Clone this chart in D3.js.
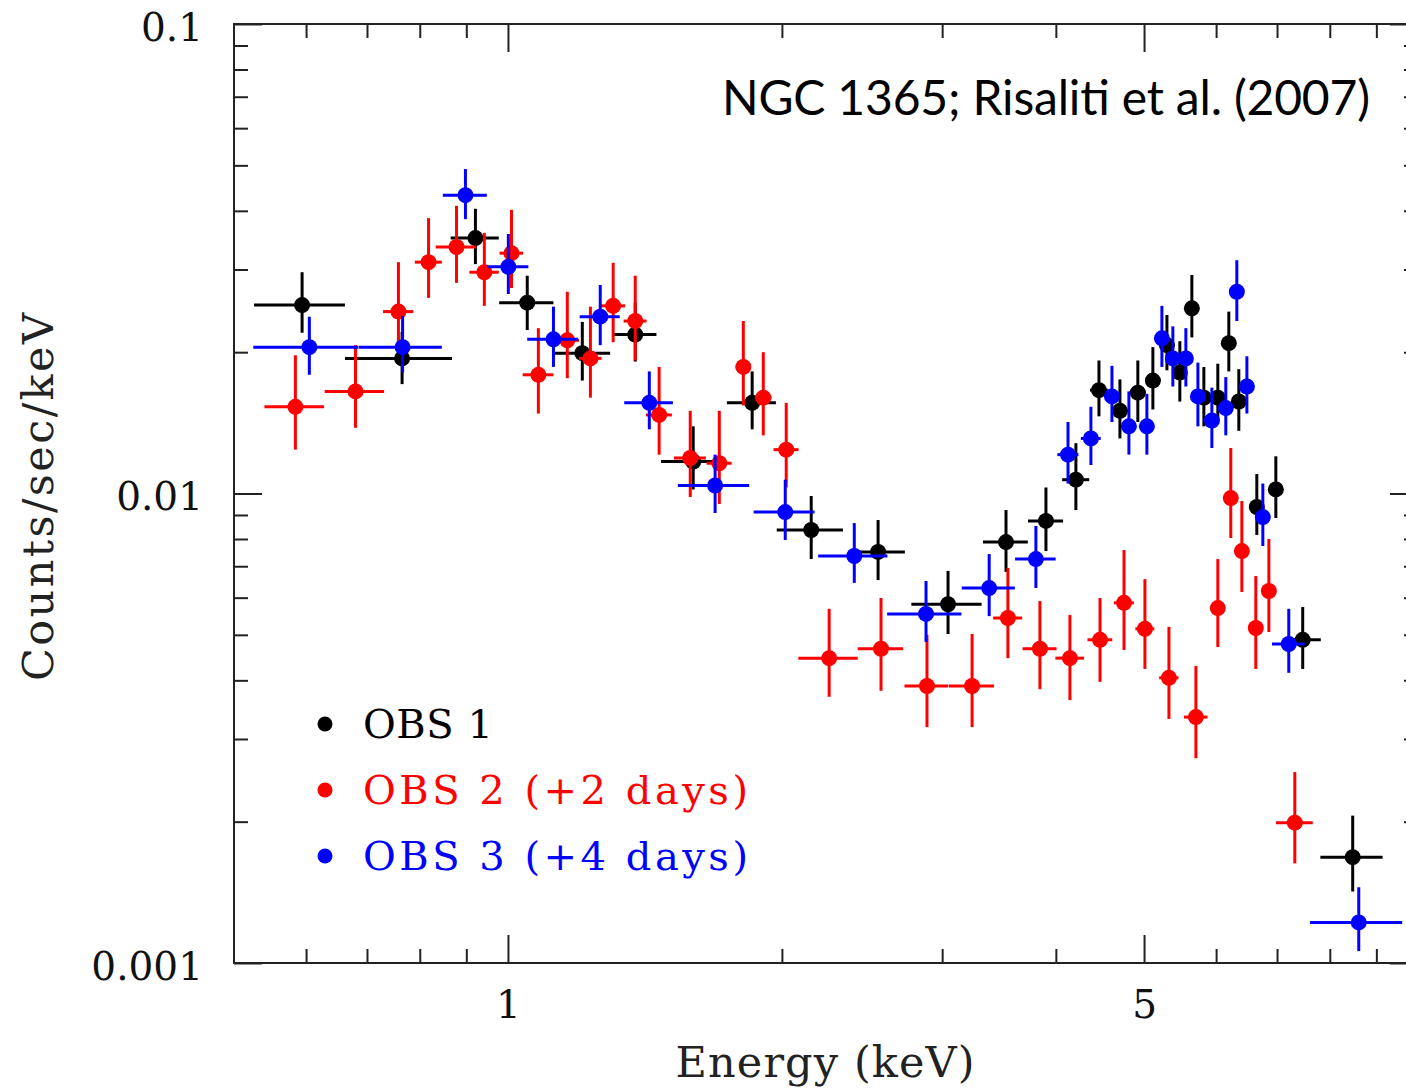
<!DOCTYPE html>
<html><head><meta charset="utf-8">
<script src="https://cdn.jsdelivr.net/npm/d3@7"></script>
<style>body{margin:0;background:#fff;overflow:hidden;} svg{display:block;}</style>
</head><body>
<svg id="chart" width="1406" height="1088"></svg>
<script>
// ---------------- DATA ----------------
// OBS 1
const obs1Energy = [0.594,0.765,0.921,1.050,1.207,1.380,1.598,1.855,2.154,2.551,3.045,3.526,3.901,4.208,4.461,4.704,4.922,5.113,5.298,5.474,5.643,5.817,6.026,6.196,6.355,6.651,6.979,7.470,8.477];
const obs1EnergyErr = [0.068,0.103,0.056,0.072,0.088,0.076,0.125,0.115,0.180,0.179,0.270,0.200,0.173,0.144,0.10,0.10,0.10,0.10,0.10,0.10,0.10,0.10,0.10,0.10,0.10,0.12,0.12,0.35,0.666];
const obs1Rate = [0.0252,0.0194,0.0350,0.0255,0.0199,0.0218,0.0117,0.0156,0.00836,0.00751,0.00581,0.00788,0.00874,0.0107,0.0166,0.0150,0.0164,0.0174,0.0207,0.0181,0.0248,0.0160,0.0160,0.0209,0.0157,0.00936,0.0102,0.00488,0.00168];
const obs1RateLo = [0.0220,0.0171,0.0308,0.0223,0.0174,0.0191,0.0102,0.0137,0.00725,0.00654,0.00502,0.00681,0.00754,0.00922,0.0146,0.0131,0.0142,0.0151,0.0183,0.0157,0.0215,0.0139,0.0141,0.0182,0.0136,0.00816,0.00887,0.00423,0.00142];
const obs1RateHi = [0.0296,0.0221,0.0404,0.0291,0.0232,0.0255,0.0139,0.0182,0.00988,0.00878,0.00684,0.00922,0.0103,0.0128,0.0192,0.0175,0.0192,0.0205,0.0240,0.0211,0.0292,0.0186,0.0189,0.0244,0.0184,0.0110,0.0120,0.00573,0.00206];

// OBS 2 (+2 days)
const obs2Energy = [0.584,0.680,0.758,0.818,0.878,0.942,1.009,1.080,1.162,1.232,1.305,1.380,1.466,1.586,1.707,1.814,1.908,2.022,2.254,2.570,2.887,3.236,3.543,3.842,4.145,4.473,4.753,5.011,5.325,5.701,6.026,6.227,6.404,6.634,6.857,7.322];
const obs2EnergyErr = [0.044,0.051,0.029,0.028,0.045,0.035,0.030,0.042,0.035,0.035,0.040,0.040,0.048,0.064,0.054,0.035,0.040,0.064,0.169,0.147,0.160,0.185,0.130,0.165,0.150,0.140,0.120,0.120,0.130,0.170,0.100,0.100,0.100,0.100,0.100,0.340];
const obs2Rate = [0.0153,0.0165,0.0244,0.0311,0.0335,0.0296,0.0325,0.0179,0.0212,0.0194,0.0251,0.0233,0.0147,0.0119,0.0116,0.0186,0.0160,0.0124,0.00446,0.00467,0.00389,0.00389,0.00543,0.00467,0.00446,0.00488,0.00585,0.00515,0.00405,0.00334,0.00570,0.00978,0.00754,0.00517,0.00620,0.00199];
const obs2RateLo = [0.0124,0.0138,0.0202,0.0261,0.0281,0.0251,0.0274,0.0148,0.0176,0.0160,0.0210,0.0192,0.0121,0.00983,0.00950,0.0154,0.0133,0.0103,0.00369,0.00380,0.00318,0.00318,0.00446,0.00383,0.00363,0.00397,0.00464,0.00423,0.00331,0.00273,0.00471,0.00804,0.00617,0.00423,0.00507,0.00163];
const obs2RateHi = [0.0197,0.0207,0.0311,0.0386,0.0410,0.0359,0.0402,0.0225,0.0269,0.0250,0.0310,0.0291,0.0186,0.0150,0.0150,0.0233,0.0200,0.0156,0.00568,0.00599,0.00500,0.00502,0.00694,0.00590,0.00551,0.00599,0.00758,0.00657,0.00520,0.00429,0.00725,0.0125,0.00964,0.00667,0.00800,0.00255];

// OBS 3 (+4 days)
const obs3Energy = [0.605,0.766,0.898,1.001,1.122,1.263,1.430,1.689,2.017,2.402,2.880,3.379,3.803,4.125,4.371,4.610,4.812,5.036,5.231,5.378,5.558,5.730,5.936,6.149,6.323,6.486,6.753,7.211,8.608];
const obs3EnergyErr = [0.080,0.080,0.050,0.052,0.072,0.064,0.088,0.152,0.155,0.210,0.270,0.227,0.195,0.110,0.110,0.090,0.090,0.090,0.090,0.090,0.090,0.090,0.090,0.090,0.090,0.090,0.090,0.300,1.000];
const obs3Rate = [0.0205,0.0205,0.0432,0.0304,0.0213,0.0238,0.0156,0.0104,0.00913,0.00736,0.00554,0.00629,0.00725,0.0121,0.0131,0.0161,0.0139,0.0139,0.0214,0.0194,0.0194,0.0161,0.0143,0.0152,0.0269,0.0169,0.00891,0.00478,0.00122];
const obs3RateLo = [0.0179,0.0181,0.0384,0.0266,0.0186,0.0207,0.0137,0.00909,0.00796,0.00645,0.00483,0.00548,0.00629,0.0105,0.0115,0.0142,0.0121,0.0121,0.0186,0.0169,0.0169,0.0139,0.0125,0.0133,0.0233,0.0148,0.00773,0.00415,0.00106];
const obs3RateHi = [0.0238,0.0239,0.0491,0.0357,0.0250,0.0278,0.0182,0.0121,0.0107,0.00865,0.00651,0.00743,0.00853,0.0142,0.0153,0.0187,0.0165,0.0163,0.0251,0.0227,0.0225,0.0190,0.0168,0.0177,0.0314,0.0196,0.0105,0.00568,0.00145];

const seriesNames = ["OBS 1", "OBS 2 (+2 days)", "OBS 3 (+4 days)"];
const seriesColors = ["#000000", "#ff0000", "#0000ff"];

const xMajorTicks = [1, 5, 10];
const xMinorTicks = [0.6, 0.7, 0.8, 0.9, 2, 3, 4, 6, 7, 8, 9];
const yMajorTicks = [0.1, 0.01, 0.001];
const yMinorTicks = [0.002,0.003,0.004,0.005,0.006,0.007,0.008,0.009,0.02,0.03,0.04,0.05,0.06,0.07,0.08,0.09];
const xTickLabels = {1: "1", 5: "5", 10: ""};
const yTickLabels = {0.1: "0.1", 0.01: "0.01", 0.001: "0.001"};

const titleText = "NGC 1365; Risaliti et al. (2007)";
const xTitle = "Energy (keV)";
const yTitle = "Counts/sec/keV";

// ---------------- DRAW ----------------
const svg = d3.select("#chart");
const L = 234, T = 24, R = 1418, B = 963;
const x = d3.scaleLog().domain([0.5, 10]).range([L, R]);
const y = d3.scaleLog().domain([0.001, 0.1]).range([B, T]);
const serif = "'DejaVu Serif', 'Liberation Serif', serif";
const axisColor = "#222";

function styleAxis(g) {
  g.select(".domain").remove();
  g.selectAll(".tick line").attr("stroke", axisColor).attr("stroke-width", 2);
  g.selectAll(".tick text").attr("font-family", serif).attr("font-size", 39).attr("fill", "#111");
}

// bottom
svg.append("g").attr("transform", `translate(0,${B})`)
  .call(d3.axisBottom(x).tickValues(xMinorTicks).tickSize(-14).tickFormat(""))
  .call(styleAxis);
svg.append("g").attr("transform", `translate(0,${B})`)
  .call(d3.axisBottom(x).tickValues(xMajorTicks).tickSize(-28).tickPadding(27).tickFormat(d => xTickLabels[d]))
  .call(styleAxis);
// top
svg.append("g").attr("transform", `translate(0,${T})`)
  .call(d3.axisTop(x).tickValues(xMinorTicks).tickSize(-14).tickFormat(""))
  .call(styleAxis);
svg.append("g").attr("transform", `translate(0,${T})`)
  .call(d3.axisTop(x).tickValues(xMajorTicks).tickSize(-28).tickFormat(""))
  .call(styleAxis);
// left
svg.append("g").attr("transform", `translate(${L},0)`)
  .call(d3.axisLeft(y).tickValues(yMinorTicks).tickSize(-14).tickFormat(""))
  .call(styleAxis);
const yMaj = svg.append("g").attr("transform", `translate(${L},0)`)
  .call(d3.axisLeft(y).tickValues(yMajorTicks).tickSize(-28).tickPadding(31).tickFormat(d => yTickLabels[d]))
  .call(styleAxis);
yMaj.selectAll(".tick text").attr("dy", "0.42em");
// right
svg.append("g").attr("transform", `translate(${R},0)`)
  .call(d3.axisRight(y).tickValues(yMinorTicks).tickSize(-14).tickFormat(""))
  .call(styleAxis);
svg.append("g").attr("transform", `translate(${R},0)`)
  .call(d3.axisRight(y).tickValues(yMajorTicks).tickSize(-28).tickFormat(""))
  .call(styleAxis);

// frame
svg.append("rect").attr("x", L).attr("y", T).attr("width", R - L).attr("height", B - T)
  .attr("fill", "none").attr("stroke", axisColor).attr("stroke-width", 2);

// data
const series = [
  {E: obs1Energy, dE: obs1EnergyErr, r: obs1Rate, lo: obs1RateLo, hi: obs1RateHi},
  {E: obs2Energy, dE: obs2EnergyErr, r: obs2Rate, lo: obs2RateLo, hi: obs2RateHi},
  {E: obs3Energy, dE: obs3EnergyErr, r: obs3Rate, lo: obs3RateLo, hi: obs3RateHi}
];
series.forEach((s, si) => {
  const pts = s.E.map((e, i) => ({e, de: s.dE[i], r: s.r[i], lo: s.lo[i], hi: s.hi[i]}));
  const g = svg.append("g").attr("stroke", seriesColors[si]).attr("fill", seriesColors[si]);
  g.selectAll("line.h").data(pts).enter().append("line").attr("class", "h")
    .attr("x1", d => x(d.e - d.de)).attr("x2", d => x(d.e + d.de))
    .attr("y1", d => y(d.r)).attr("y2", d => y(d.r)).attr("stroke-width", 3);
  g.selectAll("line.v").data(pts).enter().append("line").attr("class", "v")
    .attr("x1", d => x(d.e)).attr("x2", d => x(d.e))
    .attr("y1", d => y(d.lo)).attr("y2", d => y(d.hi)).attr("stroke-width", 3);
  g.selectAll("circle").data(pts).enter().append("circle")
    .attr("cx", d => x(d.e)).attr("cy", d => y(d.r)).attr("r", 8).attr("stroke", "none");
});

// legend
const legendWidths = [130, 385, 385];
const lg = svg.append("g");
seriesNames.forEach((name, i) => {
  const cy = 724 + i * 66;
  lg.append("circle").attr("cx", 325).attr("cy", cy).attr("r", 7.5).attr("fill", seriesColors[i]);
  lg.append("text").attr("x", 363).attr("y", cy + 14)
    .attr("font-family", serif).attr("font-size", 40).attr("fill", seriesColors[i])
    .attr("textLength", legendWidths[i]).attr("lengthAdjust", "spacing")
    .text(name);
});

// titles
svg.append("text").attr("x", 1370).attr("y", 115).attr("text-anchor", "end")
  .attr("font-family", "Lato, 'Open Sans', sans-serif").attr("font-size", 48).attr("fill", "#000")
  .attr("textLength", 648).attr("lengthAdjust", "spacing")
  .text(titleText);
svg.append("text").attr("x", 825).attr("y", 1077).attr("text-anchor", "middle")
  .attr("font-family", serif).attr("font-size", 43).attr("fill", "#222")
  .attr("textLength", 299).attr("lengthAdjust", "spacing")
  .text(xTitle);
svg.append("text").attr("transform", "translate(53,497) rotate(-90)").attr("text-anchor", "middle")
  .attr("font-family", serif).attr("font-size", 43).attr("fill", "#222")
  .attr("textLength", 368).attr("lengthAdjust", "spacing")
  .text(yTitle);
</script>
</body></html>
